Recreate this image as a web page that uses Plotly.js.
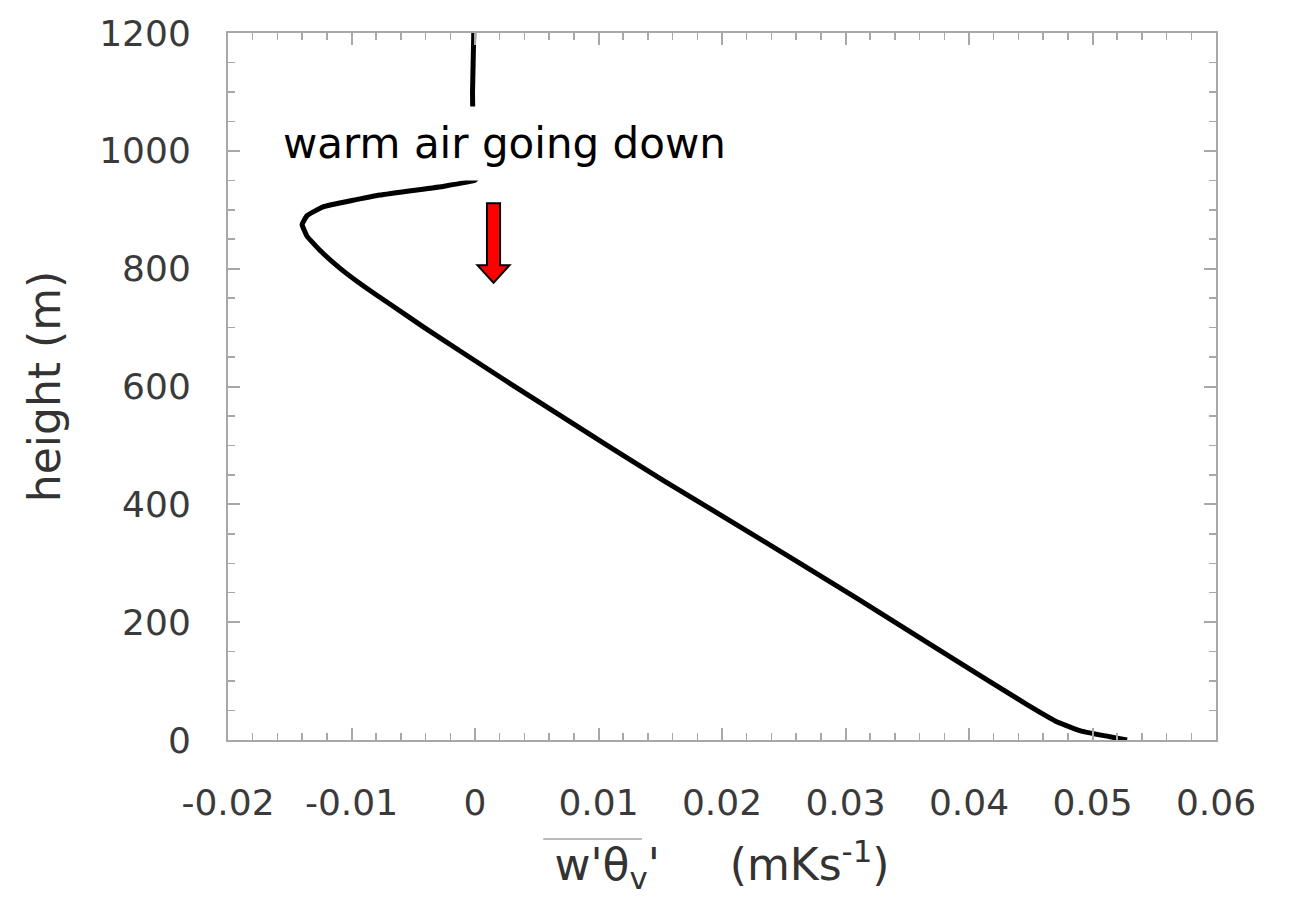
<!DOCTYPE html>
<html>
<head>
<meta charset="utf-8">
<script src="https://cdn.plot.ly/plotly-3.0.1.min.js"></script>
<style>html,body{margin:0;padding:0;background:#fff;}#chart{width:1289px;height:918px;}</style>
</head>
<body>
<div id="chart"></div>
<script>
// Virtual potential temperature flux profile
const height = [1200, 1100, 1000, 960, 950, 940, 925, 905, 890, 875, 855, 830, 800, 770, 740, 700, 611, 500, 440, 350, 241, 150, 60, 30, 15, 0];
const flux = [-0.0001, -0.0002, -0.0001, 0.0003, 0.0, -0.0025, -0.0077, -0.0123, -0.0136, -0.0140, -0.0136, -0.0125, -0.0109, -0.0090, -0.0069, -0.0041, 0.0024, 0.0107, 0.0153, 0.0224, 0.0309, 0.0378, 0.0447, 0.0472, 0.0491, 0.0528];

const xTickVals = [-0.02, -0.01, 0, 0.01, 0.02, 0.03, 0.04, 0.05, 0.06];
const xTickText = ["-0.02", "-0.01", "0", "0.01", "0.02", "0.03", "0.04", "0.05", "0.06"];
const yTickVals = [0, 200, 400, 600, 800, 1000, 1200];
const yTickText = ["0", "200", "400", "600", "800", "1000", "1200"];

const annotationText = "warm air going down";
const annotationX = 0.0024;
const annotationY = 1012;

// arrow geometry (annotation decoration)
const arrowX = 0.0015, arrowTop = 911, arrowNeck = 806, arrowTip = 776;
const shaftHalf = 0.00053, headHalf = 0.0013;

const frameColor = '#a8a8a8';
const font = 'DejaVu Sans, Verdana, sans-serif';

const trace = {
  x: flux, y: height, type: 'scatter', mode: 'lines',
  line: {color: '#000', width: 5, shape: 'spline', smoothing: 0.3},
  hoverinfo: 'skip', showlegend: false
};

const arrowPath = 'M ' + (arrowX - shaftHalf) + ' ' + arrowTop +
  ' L ' + (arrowX + shaftHalf) + ' ' + arrowTop +
  ' L ' + (arrowX + shaftHalf) + ' ' + arrowNeck +
  ' L ' + (arrowX + headHalf) + ' ' + arrowNeck +
  ' L ' + arrowX + ' ' + arrowTip +
  ' L ' + (arrowX - headHalf) + ' ' + arrowNeck +
  ' L ' + (arrowX - shaftHalf) + ' ' + arrowNeck + ' Z';

const layout = {
  width: 1289, height: 918,
  margin: {l: 228, r: 73, t: 33, b: 178},
  paper_bgcolor: '#fff', plot_bgcolor: '#fff',
  font: {family: font, color: '#333'},
  xaxis: {
    range: [-0.02, 0.06], tickmode: 'array', tickvals: xTickVals, ticktext: xTickText,
    showgrid: false, zeroline: false, showline: true, linecolor: frameColor, linewidth: 2,
    mirror: 'ticks', ticks: 'inside', ticklen: 12, tickwidth: 2, tickcolor: frameColor,
    minor: {dtick: 0.002, ticks: 'inside', ticklen: 7, tickwidth: 1.5, tickcolor: frameColor, showgrid: false},
    tickfont: {size: 36, color: '#3a3a3a', family: font}, ticklabelstandoff: 30,
    title: {text: "w'θ<sub>v</sub>'\u00A0\u00A0\u00A0\u00A0\u00A0(mKs<sup>-1</sup>)", font: {size: 44, color: '#333', family: font}, standoff: 27},
    fixedrange: true
  },
  yaxis: {
    range: [0, 1200], tickmode: 'array', tickvals: yTickVals, ticktext: yTickText,
    showgrid: false, zeroline: false, showline: true, linecolor: frameColor, linewidth: 2,
    mirror: 'ticks', ticks: 'inside', ticklen: 12, tickwidth: 2, tickcolor: frameColor,
    minor: {dtick: 50, ticks: 'inside', ticklen: 7, tickwidth: 1.5, tickcolor: frameColor, showgrid: false},
    tickfont: {size: 36, color: '#3a3a3a', family: font}, ticklabelstandoff: 28,
    title: {text: 'height (m)', font: {size: 44, color: '#333', family: font}, standoff: 25},
    fixedrange: true
  },
  annotations: [{
    x: annotationX, y: annotationY, xref: 'x', yref: 'y', text: annotationText,
    showarrow: false, bgcolor: '#fff', borderpad: 12,
    font: {size: 42, color: '#000', family: font}
  }],
  shapes: [
    {type: 'path', xref: 'x', yref: 'y', path: arrowPath, fillcolor: '#ff0000', line: {color: '#000', width: 2}},
    {type: 'line', xref: 'paper', yref: 'paper', x0: 0.319, x1: 0.419, y0: -0.140, y1: -0.140, line: {color: '#bbbbbb', width: 2}}
  ]
};

Plotly.newPlot('chart', [trace], layout, {displayModeBar: false, staticPlot: true});
</script>
</body>
</html>
